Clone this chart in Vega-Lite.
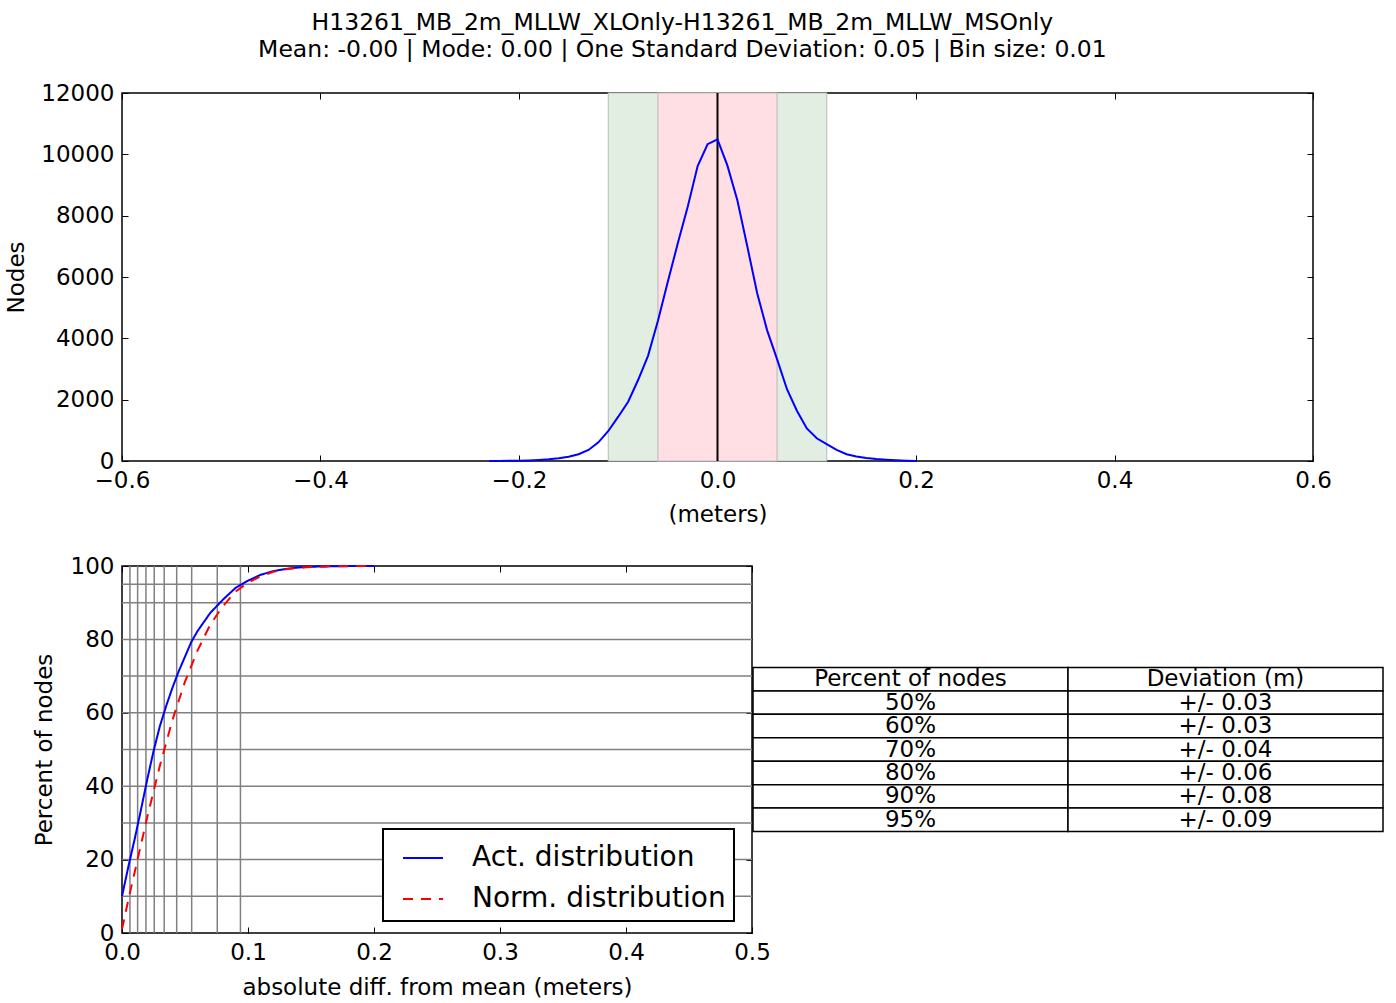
{
  "$schema": "https://vega.github.io/schema/vega-lite/v6.json",
  "autosize": {"type": "pad"},
  "padding": {"left": 5, "top": 10, "right": 5, "bottom": 5},
  "background": "white",
  "config": {
    "font": "DejaVu Sans",
    "view": {"stroke": "black", "strokeWidth": 1.5},
    "axis": {
      "labelFont": "DejaVu Sans", "labelFontSize": 23, "labelColor": "black",
      "titleFont": "DejaVu Sans", "titleFontSize": 23, "titleFontWeight": "normal", "titleColor": "black",
      "domain": false, "grid": false, "tickColor": "black", "tickWidth": 1, "tickSize": -6, "labelPadding": 14,
      "labelFlush": false, "labelOverlap": false
    },
    "axisX": {"labelPadding": 14},
    "legend": {"labelFont": "DejaVu Sans"}
  },
  "title": {
    "text": ["H13261_MB_2m_MLLW_XLOnly-H13261_MB_2m_MLLW_MSOnly", "Mean: -0.00 | Mode: 0.00 | One Standard Deviation: 0.05 | Bin size: 0.01"],
    "fontSize": 23.5, "fontWeight": "normal", "color": "black", "font": "DejaVu Sans",
    "anchor": "middle", "lineHeight": 27, "offset": 20, "dx": -12
  },
  "datasets": {
    "hist": [
      {"x": -0.23, "nodes": 2}, {"x": -0.22, "nodes": 4}, {"x": -0.21, "nodes": 8}, {"x": -0.2, "nodes": 12},
      {"x": -0.19, "nodes": 20}, {"x": -0.18, "nodes": 35}, {"x": -0.17, "nodes": 55}, {"x": -0.16, "nodes": 88},
      {"x": -0.15, "nodes": 140}, {"x": -0.14, "nodes": 220}, {"x": -0.13, "nodes": 359}, {"x": -0.12, "nodes": 610},
      {"x": -0.11, "nodes": 980}, {"x": -0.1, "nodes": 1445}, {"x": -0.09, "nodes": 1934}, {"x": -0.08, "nodes": 2640},
      {"x": -0.07, "nodes": 3430}, {"x": -0.06, "nodes": 4570}, {"x": -0.05, "nodes": 5850}, {"x": -0.04, "nodes": 7100},
      {"x": -0.03, "nodes": 8290}, {"x": -0.02, "nodes": 9620}, {"x": -0.01, "nodes": 10330}, {"x": 0.0, "nodes": 10490},
      {"x": 0.01, "nodes": 9630}, {"x": 0.02, "nodes": 8500}, {"x": 0.03, "nodes": 7000}, {"x": 0.04, "nodes": 5470},
      {"x": 0.05, "nodes": 4260}, {"x": 0.06, "nodes": 3320}, {"x": 0.07, "nodes": 2340}, {"x": 0.08, "nodes": 1640},
      {"x": 0.09, "nodes": 1060}, {"x": 0.1, "nodes": 740}, {"x": 0.11, "nodes": 550}, {"x": 0.12, "nodes": 360},
      {"x": 0.13, "nodes": 220}, {"x": 0.14, "nodes": 150}, {"x": 0.15, "nodes": 100}, {"x": 0.16, "nodes": 65},
      {"x": 0.17, "nodes": 40}, {"x": 0.18, "nodes": 22}, {"x": 0.19, "nodes": 10}, {"x": 0.2, "nodes": 4}
    ],
    "cdf": [
      {"x": 0, "pct": 10, "series": "Act. distribution"},
      {"x": 0.005, "pct": 18, "series": "Act. distribution"},
      {"x": 0.01, "pct": 25.5, "series": "Act. distribution"},
      {"x": 0.015, "pct": 33.5, "series": "Act. distribution"},
      {"x": 0.02, "pct": 41.8, "series": "Act. distribution"},
      {"x": 0.025, "pct": 49.5, "series": "Act. distribution"},
      {"x": 0.03, "pct": 56.3, "series": "Act. distribution"},
      {"x": 0.035, "pct": 61.8, "series": "Act. distribution"},
      {"x": 0.04, "pct": 66.8, "series": "Act. distribution"},
      {"x": 0.045, "pct": 71.3, "series": "Act. distribution"},
      {"x": 0.05, "pct": 75.3, "series": "Act. distribution"},
      {"x": 0.055, "pct": 79.3, "series": "Act. distribution"},
      {"x": 0.06, "pct": 82.3, "series": "Act. distribution"},
      {"x": 0.07, "pct": 87.2, "series": "Act. distribution"},
      {"x": 0.08, "pct": 90.8, "series": "Act. distribution"},
      {"x": 0.09, "pct": 94, "series": "Act. distribution"},
      {"x": 0.1, "pct": 96, "series": "Act. distribution"},
      {"x": 0.11, "pct": 97.6, "series": "Act. distribution"},
      {"x": 0.12, "pct": 98.6, "series": "Act. distribution"},
      {"x": 0.13, "pct": 99.2, "series": "Act. distribution"},
      {"x": 0.14, "pct": 99.6, "series": "Act. distribution"},
      {"x": 0.15, "pct": 99.8, "series": "Act. distribution"},
      {"x": 0.17, "pct": 99.95, "series": "Act. distribution"},
      {"x": 0.2, "pct": 100, "series": "Act. distribution"},
      {"x": 0, "pct": 1, "series": "Norm. distribution"},
      {"x": 0.005, "pct": 9, "series": "Norm. distribution"},
      {"x": 0.01, "pct": 16.5, "series": "Norm. distribution"},
      {"x": 0.015, "pct": 24, "series": "Norm. distribution"},
      {"x": 0.02, "pct": 31.5, "series": "Norm. distribution"},
      {"x": 0.03, "pct": 45.5, "series": "Norm. distribution"},
      {"x": 0.04, "pct": 58, "series": "Norm. distribution"},
      {"x": 0.05, "pct": 68.5, "series": "Norm. distribution"},
      {"x": 0.06, "pct": 77, "series": "Norm. distribution"},
      {"x": 0.07, "pct": 84, "series": "Norm. distribution"},
      {"x": 0.08, "pct": 89, "series": "Norm. distribution"},
      {"x": 0.09, "pct": 93, "series": "Norm. distribution"},
      {"x": 0.1, "pct": 95.5, "series": "Norm. distribution"},
      {"x": 0.11, "pct": 97.2, "series": "Norm. distribution"},
      {"x": 0.12, "pct": 98.4, "series": "Norm. distribution"},
      {"x": 0.13, "pct": 99.1, "series": "Norm. distribution"},
      {"x": 0.14, "pct": 99.5, "series": "Norm. distribution"},
      {"x": 0.15, "pct": 99.75, "series": "Norm. distribution"},
      {"x": 0.17, "pct": 99.95, "series": "Norm. distribution"},
      {"x": 0.2, "pct": 100, "series": "Norm. distribution"}
    ],
    "hgrid": [{"pct": 10}, {"pct": 20}, {"pct": 30}, {"pct": 40}, {"pct": 50}, {"pct": 60}, {"pct": 70}, {"pct": 80}, {"pct": 90}, {"pct": 95}],
    "vgrid": [{"dev": 0.0063}, {"dev": 0.0124}, {"dev": 0.019}, {"dev": 0.0256}, {"dev": 0.0335}, {"dev": 0.0434}, {"dev": 0.0553}, {"dev": 0.0756}, {"dev": 0.094}],
    "table": [
      {"r": 0, "c": "Percent of nodes", "label": "Percent of nodes"},
      {"r": 0, "c": "Deviation (m)", "label": "Deviation (m)"},
      {"r": 1, "c": "Percent of nodes", "label": "50%"},
      {"r": 1, "c": "Deviation (m)", "label": "+/- 0.03"},
      {"r": 2, "c": "Percent of nodes", "label": "60%"},
      {"r": 2, "c": "Deviation (m)", "label": "+/- 0.03"},
      {"r": 3, "c": "Percent of nodes", "label": "70%"},
      {"r": 3, "c": "Deviation (m)", "label": "+/- 0.04"},
      {"r": 4, "c": "Percent of nodes", "label": "80%"},
      {"r": 4, "c": "Deviation (m)", "label": "+/- 0.06"},
      {"r": 5, "c": "Percent of nodes", "label": "90%"},
      {"r": 5, "c": "Deviation (m)", "label": "+/- 0.08"},
      {"r": 6, "c": "Percent of nodes", "label": "95%"},
      {"r": 6, "c": "Deviation (m)", "label": "+/- 0.09"}
    ]
  },
  "bounds": "flush",
  "spacing": 105,
  "vconcat": [
    {
      "width": 1191,
      "height": 368,
      "resolve": {"axis": {"x": "independent", "y": "independent"}},
      "layer": [
        {
          "data": {"values": [{"lo": -0.11, "hi": 0.11}]},
          "mark": {"type": "rect", "fill": "#e2eee2", "stroke": "#bfc4bf", "strokeWidth": 1.2},
          "encoding": {
            "x": {"field": "lo", "type": "quantitative", "scale": {"domain": [-0.6, 0.6], "nice": false}, "axis": null},
            "x2": {"field": "hi"}
          }
        },
        {
          "data": {"values": [{"lo": -0.06, "hi": 0.06}]},
          "mark": {"type": "rect", "fill": "#ffdfe3", "stroke": "#c8bcbe", "strokeWidth": 1.2},
          "encoding": {
            "x": {"field": "lo", "type": "quantitative", "axis": null},
            "x2": {"field": "hi"}
          }
        },
        {
          "data": {"values": [{"x": 0}]},
          "mark": {"type": "rule", "color": "black", "strokeWidth": 2},
          "encoding": {
            "x": {"field": "x", "type": "quantitative", "axis": {"orient": "top", "values": [-0.6, -0.4, -0.2, 0, 0.2, 0.4, 0.6], "labels": false, "title": null}}
          }
        },
        {
          "data": {"name": "hist"},
          "mark": {"type": "line", "color": "#0000ff", "strokeWidth": 2},
          "encoding": {
            "x": {"field": "x", "type": "quantitative", "axis": {"orient": "bottom", "values": [-0.6, -0.4, -0.2, 0, 0.2, 0.4, 0.6], "format": ".1f", "title": "(meters)", "titlePadding": 11}},
            "y": {"field": "nodes", "type": "quantitative", "scale": {"domain": [0, 12000], "nice": false}, "axis": {"orient": "left", "values": [0, 2000, 4000, 6000, 8000, 10000, 12000], "format": "d", "title": "Nodes", "titlePadding": 12}}
          }
        },
        {
          "data": {"values": [{"y": 0}]},
          "mark": {"type": "rule", "opacity": 0},
          "encoding": {
            "y": {"field": "y", "type": "quantitative", "axis": {"orient": "right", "values": [0, 2000, 4000, 6000, 8000, 10000, 12000], "labels": false, "title": null}}
          }
        }
      ]
    },
    {
      "hconcat": [
        {
          "width": 630,
          "height": 367,
          "resolve": {"axis": {"x": "independent", "y": "independent"}},
          "layer": [
            {
              "data": {"name": "hgrid"},
              "mark": {"type": "rule", "color": "#808080", "strokeWidth": 1.5},
              "encoding": {
                "y": {"field": "pct", "type": "quantitative", "scale": {"domain": [0, 100], "nice": false}, "axis": {"orient": "right", "values": [0, 20, 40, 60, 80, 100], "labels": false, "title": null}}
              }
            },
            {
              "data": {"name": "vgrid"},
              "mark": {"type": "rule", "color": "#808080", "strokeWidth": 1.5},
              "encoding": {
                "x": {"field": "dev", "type": "quantitative", "scale": {"domain": [0, 0.5], "nice": false}, "axis": {"orient": "top", "values": [0, 0.1, 0.2, 0.3, 0.4, 0.5], "labels": false, "title": null}}
              }
            },
            {
              "data": {"name": "cdf"},
              "mark": {"type": "line", "strokeWidth": 2},
              "encoding": {
                "x": {"field": "x", "type": "quantitative", "axis": {"orient": "bottom", "values": [0, 0.1, 0.2, 0.3, 0.4, 0.5], "format": ".1f", "title": "absolute diff. from mean (meters)", "titlePadding": 12}},
                "y": {"field": "pct", "type": "quantitative", "axis": {"orient": "left", "values": [0, 20, 40, 60, 80, 100], "format": "d", "title": "Percent of nodes", "titlePadding": 14}},
                "color": {"field": "series", "type": "nominal", "scale": {"domain": ["Act. distribution", "Norm. distribution"], "range": ["#0000ff", "#ff0000"]},
                  "legend": {"title": null, "orient": "none", "legendX": 261, "legendY": 736, "fillColor": "white", "strokeColor": "black",
                    "padding": 8, "symbolOffset": 11, "rowPadding": 6, "labelFontSize": 28, "labelColor": "black", "labelOffset": 28, "symbolType": "stroke", "symbolSize": 1600, "symbolStrokeWidth": 2, "labelLimit": 400, "cornerRadius": 0,
                    "encode": {"legend": {"update": {"strokeWidth": {"value": 2}}}}}},
                "strokeDash": {"field": "series", "type": "nominal", "scale": {"domain": ["Act. distribution", "Norm. distribution"], "range": [[1, 0], [10, 8]]},
                  "legend": {"title": null, "orient": "none", "legendX": 261, "legendY": 736, "fillColor": "white", "strokeColor": "black",
                    "padding": 8, "symbolOffset": 11, "rowPadding": 6, "labelFontSize": 28, "labelColor": "black", "labelOffset": 28, "symbolType": "stroke", "symbolSize": 1600, "symbolStrokeWidth": 2, "labelLimit": 400, "cornerRadius": 0,
                    "encode": {"legend": {"update": {"strokeWidth": {"value": 2}}}}}}
              }
            }
          ]
        },
        {
          "width": 630,
          "height": 164,
          "view": {"stroke": null},
          "data": {"name": "table"},
          "encoding": {
            "y": {"field": "r", "type": "ordinal", "axis": null, "scale": {"paddingInner": 0, "paddingOuter": 0}},
            "x": {"field": "c", "type": "nominal", "axis": null, "sort": ["Percent of nodes", "Deviation (m)"], "scale": {"paddingInner": 0, "paddingOuter": 0}}
          },
          "layer": [
            {"mark": {"type": "rect", "fill": "white", "stroke": "black", "strokeWidth": 1.5}},
            {"mark": {"type": "text", "fontSize": 23, "baseline": "middle", "dy": 0, "color": "black", "font": "DejaVu Sans"}, "encoding": {"text": {"field": "label"}}}
          ]
        }
      ],
      "bounds": "flush",
      "center": true,
      "spacing": 1
    }
  ]
}
